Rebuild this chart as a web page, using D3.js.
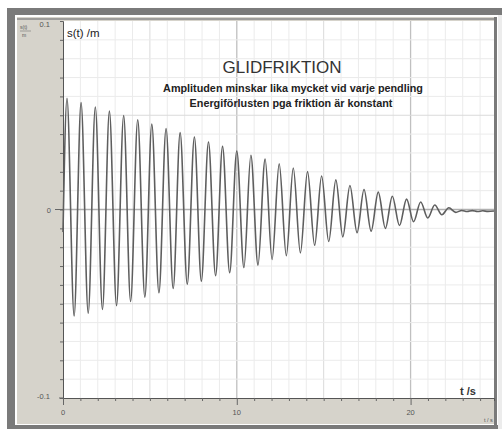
<!DOCTYPE html>
<html><head><meta charset="utf-8">
<script src="https://cdn.jsdelivr.net/npm/d3@7"></script>
<style>html,body{margin:0;padding:0;background:#fff;}svg{display:block;}</style>
</head><body>
<svg id="c" width="502" height="429"></svg>
<script>
// ---- data ----
const startPoint = [0, -0.012];
const peakTimes  = [0.23,1.04,1.86,2.67,3.49,4.30,5.11,5.93,6.74,7.56,8.37,9.18,10.00,10.81,11.63,12.44,13.25,14.07,14.88,15.70,16.51,17.32,18.14,18.95,19.77,20.58,21.39,22.20];
const peakValues = [0.0590,0.0567,0.0544,0.0522,0.0499,0.0476,0.0453,0.0430,0.0408,0.0385,0.0358,0.0335,0.0310,0.0288,0.0267,0.0242,0.0220,0.0201,0.0178,0.0157,0.0127,0.0106,0.0092,0.0070,0.0055,0.0040,0.0024,0.0009];
const troughTimes  = [0.64,1.45,2.27,3.08,3.89,4.71,5.52,6.34,7.15,7.96,8.78,9.59,10.41,11.22,12.03,12.85,13.66,14.48,15.29,16.10,16.92,17.73,18.55,19.36,20.17,20.99,21.80,22.60];
const troughValues = [-0.0565,-0.0550,-0.0530,-0.0510,-0.0488,-0.0465,-0.0442,-0.0419,-0.0396,-0.0380,-0.0351,-0.0335,-0.0308,-0.0295,-0.0265,-0.0245,-0.0230,-0.0190,-0.0170,-0.0145,-0.0123,-0.0115,-0.0100,-0.0085,-0.0065,-0.0045,-0.0028,-0.0015];
const tailTimes  = [22.95,23.25,23.55,23.85,24.15,24.45,24.80];
const tailValues = [-0.0005,-0.0011,-0.0006,-0.0011,-0.0007,-0.0010,-0.0008];

const xTickLabels = [0, 10, 20];
const yTickLabels = [0.1, 0, -0.1];
const xDomain = [0, 24.8];
const yDomain = [-0.1, 0.1];

const title = "GLIDFRIKTION";
const subtitle1 = "Amplituden minskar lika mycket vid varje pendling";
const subtitle2 = "Energiförlusten pga friktion är konstant";

// ---- build points ----
let pts = [startPoint];
peakTimes.forEach((t,i)=>pts.push([t, peakValues[i]]));
troughTimes.forEach((t,i)=>pts.push([t, troughValues[i]]));
tailTimes.forEach((t,i)=>pts.push([t, tailValues[i]]));
pts.sort((a,b)=>a[0]-b[0]);

const svg = d3.select("#c");
const font = "Liberation Sans, Arial, sans-serif";

// frame
svg.append("rect").attr("x",7).attr("y",8).attr("width",495).attr("height",421).attr("fill","#7a7a7a");
svg.append("rect").attr("x",15).attr("y",15).attr("width",483).attr("height",410).attr("fill","#ffffff");
svg.append("rect").attr("x",498).attr("y",15).attr("width",4).attr("height",414).attr("fill","#ececec");
svg.append("rect").attr("x",17).attr("y",17).attr("width",478).attr("height",407).attr("fill","#d6d3cb");
svg.append("line").attr("x1",17).attr("x2",495).attr("y1",19).attr("y2",19).attr("stroke","#8a8a8a").attr("stroke-width",1.5);
svg.append("rect").attr("x",494).attr("y",17).attr("width",3).attr("height",408).attr("fill","#7a7a7a");

const L = 63, R = 494, T = 21, B = 398;
const x = d3.scaleLinear().domain(xDomain).range([L, R]);
const y = d3.scaleLinear().domain(yDomain).range([B, T]);

svg.append("rect").attr("x",L).attr("y",T).attr("width",R-L).attr("height",B-T).attr("fill","#ffffff");

// grid
const g = svg.append("g");
d3.range(1, 25).forEach(v=>{
  const major = v % 10 === 0, mid = v % 5 === 0;
  g.append("line").attr("x1",x(v)).attr("x2",x(v)).attr("y1",T).attr("y2",B)
   .attr("stroke", major ? "#c0c0c0" : mid ? "#dadada" : "#ebebeb").attr("stroke-width", major?1.3:1);
});
d3.range(-9, 10).forEach(i=>{
  const v = i/100;
  const major = i === 0, mid = Math.abs(i) === 5;
  g.append("line").attr("x1",L).attr("x2",R).attr("y1",y(v)).attr("y2",y(v))
   .attr("stroke", major ? "#b0b0b0" : mid ? "#dadada" : "#ebebeb").attr("stroke-width", major?1.3:1);
});

// axes
const yAxis = d3.axisLeft(y).tickValues(d3.range(-10,11).map(i=>i/100)).tickSize(3).tickFormat("");
const ya = svg.append("g").attr("transform",`translate(${L},0)`).call(yAxis);
ya.select(".domain").attr("stroke","#555");
ya.selectAll(".tick line").attr("stroke","#666");
svg.append("line").attr("x1",55).attr("x2",L).attr("y1",y(0)).attr("y2",y(0)).attr("stroke","#666");
svg.append("line").attr("x1",L-4).attr("x2",L).attr("y1",y(-0.1)).attr("y2",y(-0.1)).attr("stroke","#666");

const xAxis = d3.axisBottom(x).tickValues(d3.range(0,25)).tickSize(3).tickFormat("");
const xa = svg.append("g").attr("transform",`translate(0,${B})`).call(xAxis);
xa.select(".domain").attr("stroke","#555");
xa.selectAll(".tick line").attr("stroke","#666").attr("y2", d=> d%10===0 ? 7 : 3);

xTickLabels.forEach(v=>{
  svg.append("text").attr("x",x(v)).attr("y",415).attr("text-anchor","middle")
    .attr("font-family",font).attr("font-size",7.5).attr("fill","#555").text(v);
});
const yLabelPos = {"0.1":[50,27], "0":[51,213], "-0.1":[50,399]};
yTickLabels.forEach(v=>{
  const p = yLabelPos[String(v)];
  svg.append("text").attr("x",p[0]).attr("y",p[1]).attr("text-anchor","end")
    .attr("font-family",font).attr("font-size",7.5).attr("fill","#555").text(String(v));
});

// tiny unit labels
svg.append("text").attr("x",20).attr("y",29).attr("font-family",font).attr("font-size",5).attr("fill","#555").text("s(t)");
svg.append("line").attr("x1",20).attr("x2",31).attr("y1",31).attr("y2",31).attr("stroke","#777").attr("stroke-width",0.6);
svg.append("text").attr("x",22).attr("y",37).attr("font-family",font).attr("font-size",5).attr("fill","#555").text("m");
svg.append("text").attr("x",484).attr("y",422).attr("font-family",font).attr("font-size",5.5).attr("fill","#555").text("t / s");

// curve
const line = d3.line().x(d=>x(d[0])).y(d=>y(d[1])).curve(d3.curveMonotoneX);
svg.append("path").datum(pts).attr("d",line).attr("fill","none")
  .attr("stroke","#5e5e5e").attr("stroke-width",1.6).attr("stroke-linejoin","round");

// texts
svg.append("text").attr("x",67).attr("y",37).attr("font-family",font).attr("font-size",11.5).attr("fill","#222").text("s(t) /m");
svg.append("text").attr("x",460).attr("y",395).attr("font-family",font).attr("font-size",11).attr("font-weight","bold").attr("fill","#333").text("t /s");
svg.append("text").attr("x",282).attr("y",73).attr("text-anchor","middle").attr("font-family",font).attr("font-size",17).attr("fill","#333").text(title);
svg.append("text").attr("x",293).attr("y",92).attr("text-anchor","middle").attr("font-family",font).attr("font-size",10.8).attr("font-weight","bold").attr("fill","#222").text(subtitle1);
svg.append("text").attr("x",291).attr("y",107).attr("text-anchor","middle").attr("font-family",font).attr("font-size",10.8).attr("font-weight","bold").attr("fill","#222").text(subtitle2);
</script>
</body></html>
